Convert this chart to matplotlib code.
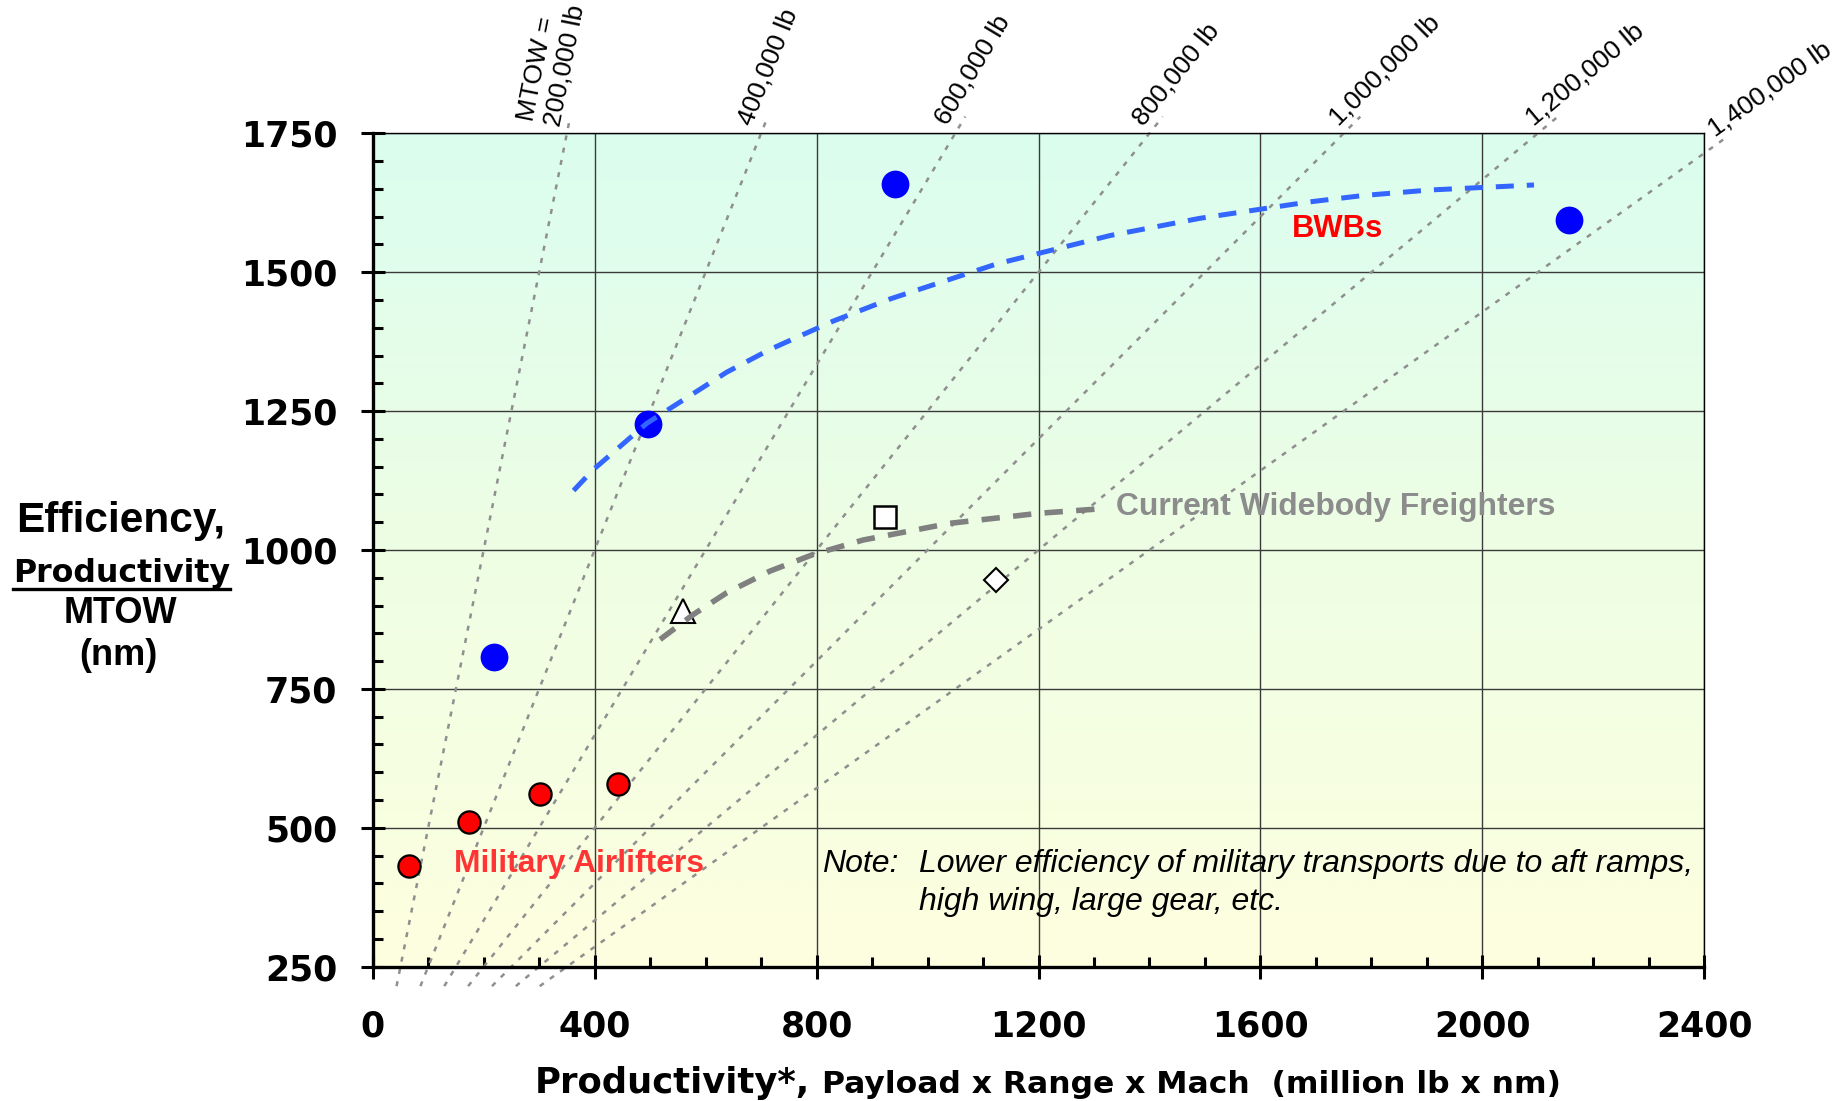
import numpy as np
import matplotlib
matplotlib.use("Agg")
import matplotlib.pyplot as plt
from matplotlib.colors import LinearSegmentedColormap
from matplotlib.ticker import MultipleLocator
from matplotlib.lines import Line2D
from matplotlib.transforms import offset_copy

plt.rcParams['font.family'] = ['DejaVu Sans']

# ---- data -------------------------------------------------------------
# Blended-wing-body concepts
bwb_x = [219, 497, 941, 2157]
bwb_y = [807, 1226, 1659, 1594]

# Military airlifters
mil_x = [65, 173, 302, 443]
mil_y = [432, 511, 561, 579]

# Current widebody freighters (three types, open symbols)
frt_tri = (560, 890)
frt_sq = (923, 1060)
frt_dia = (1123, 946)

# Hand-drawn trend curves
bwb_trend_x = [362, 398, 494, 638, 716, 830, 933, 1125, 1329, 1491, 1684, 1785, 1906, 2093]
bwb_trend_y = [1107, 1145, 1228, 1320, 1361, 1412, 1452, 1515, 1566, 1597, 1626, 1638, 1648, 1657]
frt_trend_x = [518, 578, 638, 716, 794, 884, 1040, 1200, 1323]
frt_trend_y = [839, 884, 923, 962, 992, 1018, 1048, 1066, 1075]

# Constant-MTOW reference lines (efficiency = productivity / MTOW)
mtow_lb = [200000, 400000, 600000, 800000, 1000000, 1200000, 1400000]
mtow_labels = ['MTOW =\n200,000 lb', '400,000 lb', '600,000 lb', '800,000 lb',
               '1,000,000 lb', '1,200,000 lb', '1,400,000 lb']

x_ticks = [0, 400, 800, 1200, 1600, 2000, 2400]
y_ticks = [250, 500, 750, 1000, 1250, 1500, 1750]

# ---- figure / axes ------------------------------------------------------
W, H = 1841, 1101
fig = plt.figure(figsize=(W / 100, H / 100), dpi=100)
L, R, T, B = 372.7, 1704.3, 133.3, 966.7
ax = fig.add_axes([L / W, 1 - B / H, (R - L) / W, (B - T) / H])
ax.set_xlim(0, 2400)
ax.set_ylim(250, 1750)

# gradient fill of the plot area
grad = np.linspace(0, 1, 256).reshape(-1, 1)
bg = LinearSegmentedColormap.from_list('bg', ['#FEFFDF', '#EEFEE4', '#DBFDEF'])
ax.imshow(grad, extent=(0, 2400, 250, 1750), origin='lower', aspect='auto',
          cmap=bg, zorder=0, interpolation='bicubic')

ax.set_axisbelow(True)
ax.grid(which='major', color='#3a3a3a', lw=1.0)

# ticks
ax.xaxis.set_minor_locator(MultipleLocator(100))
ax.yaxis.set_minor_locator(MultipleLocator(50))
ax.set_xticks(x_ticks)
ax.set_yticks(y_ticks)
ax.set_xticklabels([str(v) for v in x_ticks])
ax.set_yticklabels([str(v) for v in y_ticks])
ax.tick_params(which='major', direction='inout', length=17, width=2.2,
               labelsize=25, colors='black')
ax.tick_params(axis='y', which='major', pad=17.0)
ax.tick_params(axis='x', which='major', pad=22.0)
ax.tick_params(which='minor', direction='in', length=7.5, width=2.2)
ax.tick_params(top=False, right=False, which='both')
for lab in ax.get_xticklabels() + ax.get_yticklabels():
    lab.set_fontweight('bold')

for side in ('left', 'bottom'):
    ax.spines[side].set_linewidth(2.4)
for side in ('top', 'right'):
    ax.spines[side].set_linewidth(1.0)

# ---- constant-MTOW lines -----------------------------------------------
y_lo, y_hi, x_cap = 215, 1780, 2440
label_tr = offset_copy(ax.transData, fig=fig, x=-12, y=0, units='dots')
for m, lab in zip(mtow_lb, mtow_labels):
    k = 1e6 / m
    y1 = min(y_hi, k * x_cap)
    ax.plot([y_lo / k, y1 / k], [y_lo, y1], ls=(0, (2, 3)), color='#8f8f8f',
            lw=1.8, clip_on=False, zorder=2)
    p0 = ax.transData.transform((0, 0))
    p1 = ax.transData.transform((1000, 1000 * k))
    ang = np.degrees(np.arctan2(p1[1] - p0[1], p1[0] - p0[0]))
    ya = min(1762, y1)
    ax.text(ya / k, ya, lab, rotation=ang, rotation_mode='anchor',
            ha='left', va='baseline', fontsize=19, family='Liberation Sans',
            color='black', zorder=6, clip_on=False, transform=label_tr)

# ---- trend curves and markers ------------------------------------------
ax.plot(bwb_x, bwb_y, 'o', ms=20, color='#0000FF', mec='none', zorder=4)
ax.plot(mil_x, mil_y, 'o', ms=16, mfc='#FF0000', mec='black', mew=1.6, zorder=4)
ax.plot(*frt_tri, '^', ms=17.5, mfc='white', mec='black', mew=1.5, zorder=4)
ax.plot(*frt_sq, 's', ms=16, mfc='white', mec='black', mew=1.8, zorder=4)
ax.plot(*frt_dia, 'D', ms=12.5, mfc='white', mec='black', mew=1.5, zorder=4)

ax.plot(bwb_trend_x, bwb_trend_y, color='#3366FF', lw=3.6,
        dashes=(3.6, 2.6), zorder=5)
ax.plot(frt_trend_x, frt_trend_y, color='#808080', lw=4.0,
        dashes=(3.3, 2.4), zorder=5)

# ---- annotations -------------------------------------------------------
ax.text(1656, 1563, 'BWBs', color='#FF0000', fontsize=22.3, fontweight='bold',
        family='Liberation Sans', ha='left', va='baseline', zorder=6)
ax.text(1339, 1063, 'Current Widebody Freighters', color='#8c8c8c', fontsize=22.9,
        fontweight='bold', family='Liberation Sans', ha='left', va='baseline', zorder=6)
ax.text(147, 421, 'Military Airlifters', color='#FF3535', fontsize=22.9,
        fontweight='bold', family='Liberation Sans', ha='left', va='baseline', zorder=6)
ax.text(810, 421, 'Note:', fontsize=23, style='italic', family='Liberation Sans',
        ha='left', va='baseline', zorder=6)
ax.text(985, 421, 'Lower efficiency of military transports due to aft ramps,',
        fontsize=23, style='italic', family='Liberation Sans',
        ha='left', va='baseline', zorder=6)
ax.text(985, 352, 'high wing, large gear, etc.', fontsize=23, style='italic',
        family='Liberation Sans', ha='left', va='baseline', zorder=6)

# ---- axis titles -------------------------------------------------------
def fx(px):
    return px / W


def fy(py):
    return 1 - py / H


fig.text(fx(535), fy(1093), 'Productivity*,', fontsize=25.5, fontweight='bold',
         ha='left', va='baseline')
fig.text(fx(822), fy(1093), 'Payload x Range x Mach  (million lb x nm)',
         fontsize=22.6, fontweight='bold', ha='left', va='baseline')

fig.text(fx(121), fy(531.7), 'Efficiency,', fontsize=30.5, fontweight='bold',
         family='Liberation Sans', ha='center', va='baseline')
fig.text(fx(122), fy(581.7), 'Productivity', fontsize=22.8, fontweight='bold',
         ha='center', va='baseline')
fig.add_artist(Line2D([fx(13), fx(230)], [fy(588.5), fy(588.5)], lw=2.4, color='black'))
fig.text(fx(120), fy(623.3), 'MTOW', fontsize=26, fontweight='bold',
         family='Liberation Sans', ha='center', va='baseline')
fig.text(fx(118.5), fy(665), '(nm)', fontsize=26, fontweight='bold',
         family='Liberation Sans', ha='center', va='baseline')

fig.savefig('out.png', dpi=100)
